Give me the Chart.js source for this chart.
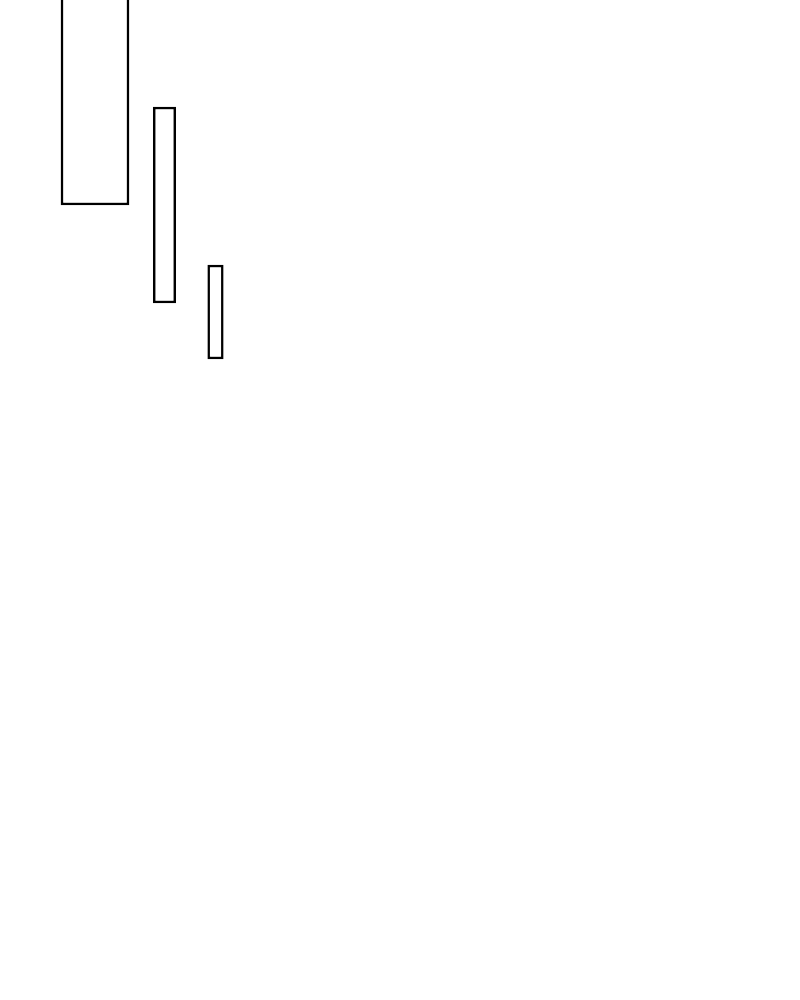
<!DOCTYPE html>
<html>
<head>
<meta charset="utf-8">
<script src="https://cdn.jsdelivr.net/npm/chart.js@4.4.0/dist/chart.umd.min.js"></script>
<style>
  html, body { margin: 0; padding: 0; background: #fff; }
  #wrap { width: 800px; height: 1000px; position: relative; }
</style>
</head>
<body>
<div id="wrap"><canvas id="myChart"></canvas></div>
<script>
// data (x axis 0..80, y axis 0..100)
const names = ['A', 'B', 'C'];
const centers = [9.5, 16.45, 21.55];
const lows = [79.5, 69.7, 64.1];
const highs = [110, 89.3, 73.5];

// bar widths in px (styling only)
const barPx = [68, 22.5, 15.5];

let datasets = names.map((name, i) => ({
  label: name,
  data: [{ x: centers[i], y: [lows[i], highs[i]] }],
  barThickness: barPx[i],
  backgroundColor: '#ffffff',
  borderColor: '#000000',
  borderWidth: 2.5,
  borderSkipped: false,
  grouped: false
}));

let ctx = document.getElementById('myChart').getContext('2d');
let chart = new Chart(ctx, {
  type: 'bar',
  data: { datasets: datasets },
  options: {
    responsive: true,
    maintainAspectRatio: false,
    animation: false,
    layout: { padding: 0 },
    plugins: { legend: { display: false }, tooltip: { enabled: false } },
    scales: {
      x: { type: 'linear', min: 0, max: 80, offset: false, display: false },
      y: { type: 'linear', min: 0, max: 100, display: false }
    }
  }
});
</script>
</body>
</html>
